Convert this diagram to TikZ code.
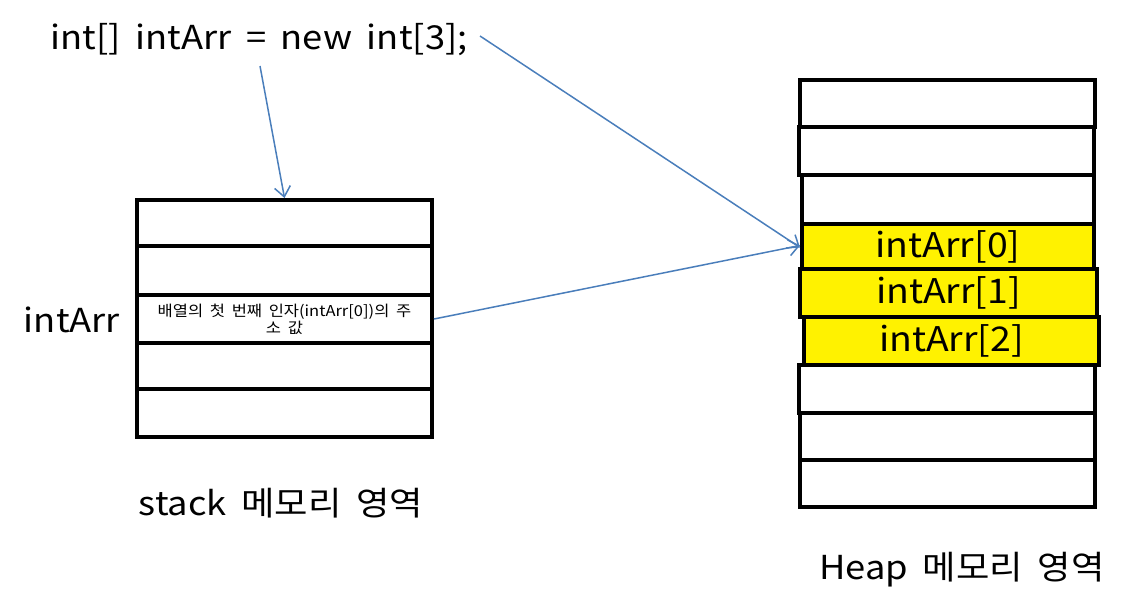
\documentclass[tikz,border=0pt]{standalone}
\usepackage{fontspec}
\setmainfont[FakeStretch=1.1,WordSpace=1.8]{Noto Sans CJK KR}
\usepackage{xcolor}
\usepackage{tikz}
\usetikzlibrary{arrows.meta}
\definecolor{arrowblue}{HTML}{4A7EBB}

\begin{document}
\begin{tikzpicture}[x=1pt,y=-1pt,
  cell/.style={draw,line width=4pt,anchor=north west,minimum width=295pt,inner sep=0pt,align=center},
  filled/.style={cell,fill=yellow,font=\fontsize{34}{36}\selectfont},
  big/.style={font=\fontsize{33}{36}\selectfont,inner sep=0pt},
  pointer/.style={arrowblue,line width=1.5pt,-{Straight Barb[length=10pt,width=16pt]}}]
\useasboundingbox (0,0) rectangle (1140,608);
\node[big] (code) at (259,40) {int[] intArr = new int[3];};
\coordinate (codeb) at (260,66);
\coordinate (codee) at (480,36);
\node[cell,minimum height=46pt] (s1) at (135,198) {};
\node[cell,minimum height=49pt] (s2) at (135,244) {};
\node[cell,minimum height=48pt,font=\fontsize{15}{17}\selectfont] (s3) at (135,293) {배열의 첫 번째 인자(intArr[0])의 주\\소 값};
\node[cell,minimum height=46pt] (s4) at (135,341) {};
\node[cell,minimum height=48pt] (s5) at (135,387) {};
\node[big] (var) at (72,320) {intArr};
\node[big] (slabel) at (281,503) {stack 메모리 영역};
\node[cell,minimum height=47pt] (h1) at (798,78) {};
\node[cell,minimum height=48pt] (h2) at (797,125) {};
\node[cell,minimum height=49pt,minimum width=292pt] (h3) at (800,173) {};
\node[filled,minimum height=45pt,minimum width=292pt] (h4) at (800,222) {intArr[0]};
\node[filled,minimum height=48pt,minimum width=297pt] (h5) at (798,267) {intArr[1]};
\node[filled,minimum height=48pt] (h6) at (802,315) {intArr[2]};
\node[cell,minimum height=48pt,minimum width=296pt] (h7) at (797,363) {};
\node[cell,minimum height=47pt] (h8) at (798,411) {};
\node[cell,minimum height=47pt] (h9) at (798,458) {};
\node[big] (hlabel) at (962,570) {Heap 메모리 영역};
\draw[pointer] (codeb) -- (s1.north);
\draw[pointer] (codee) -- ([yshift=-1pt]h4.west);
\draw[pointer] (s3.east) -- ([yshift=1pt]h4.west);
\end{tikzpicture}
\end{document}
